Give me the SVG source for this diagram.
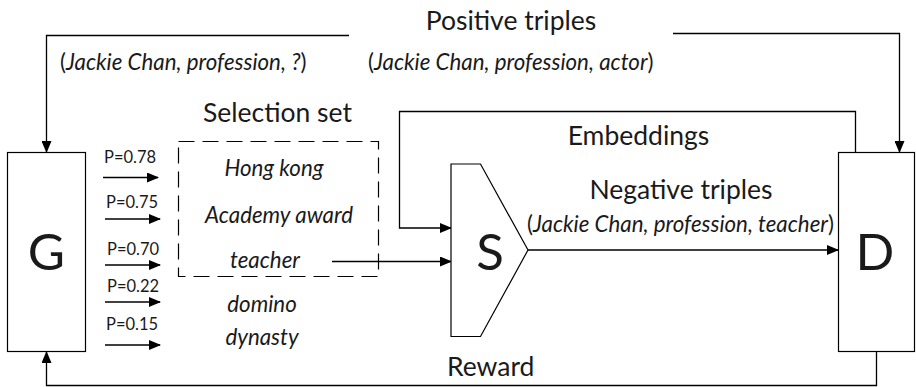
<svg xmlns="http://www.w3.org/2000/svg" width="916" height="387" viewBox="0 0 916 387">
  <style>
    .ln { fill: none; stroke: #000; stroke-width: 1.3; }
    .box { fill: #fff; stroke: #000; stroke-width: 1.2; }
    .t { font-family: Lato, "Open Sans", sans-serif; fill: #1a1a1a; }
    .lbl { font-size: 26.5px; }
    .it { font-style: italic; }
    .sm { font-size: 22.3px; }
    .p { font-size: 16.5px; }
    .big { font-size: 51px; }
  </style>
  <defs>
    <marker id="ah" markerWidth="12" markerHeight="10" refX="11" refY="5" orient="auto" markerUnits="userSpaceOnUse">
      <path d="M0,0 L12,5 L0,10 Z" fill="#000"/>
    </marker>
  </defs>
  <rect width="916" height="387" fill="#fff"/>

  <!-- connectors -->
  <g id="connectors">
    <path class="ln" d="M349,35.5 H46.5 V152" marker-end="url(#ah)"/>
    <path class="ln" d="M673,33.5 H899.5 V152" marker-end="url(#ah)"/>
    <path class="ln" d="M855.5,152.5 V111.5 H399.5 V228 H451" marker-end="url(#ah)"/>
    <path class="ln" d="M332,261.5 H451" marker-end="url(#ah)"/>
    <path class="ln" d="M528,250 H838" marker-end="url(#ah)"/>
    <path class="ln" d="M876.5,351.5 V385.5 H46.5 V352" marker-end="url(#ah)"/>
    <path class="ln" d="M103,177.5 H158" marker-end="url(#ah)"/>
    <path class="ln" d="M105,219 H160" marker-end="url(#ah)"/>
    <path class="ln" d="M105,265 H160" marker-end="url(#ah)"/>
    <path class="ln" d="M105,302 H160" marker-end="url(#ah)"/>
    <path class="ln" d="M105,345 H160" marker-end="url(#ah)"/>
  </g>

  <!-- connector labels -->
  <g id="labels">
    <text class="t lbl" x="511" y="30" text-anchor="middle">Positive triples</text>
    <text class="t sm" x="60" y="70">(<tspan class="it">Jackie Chan, profession, ?</tspan>)</text>
    <text class="t sm" x="368" y="70">(<tspan class="it">Jackie Chan, profession, actor</tspan>)</text>
    <text class="t lbl" x="638.5" y="145" text-anchor="middle">Embeddings</text>
    <text class="t lbl" x="681" y="199" text-anchor="middle">Negative triples</text>
    <text class="t sm" x="527" y="232">(<tspan class="it">Jackie Chan, profession, teacher</tspan>)</text>
    <text class="t lbl" x="447" y="376">Reward</text>
    <text class="t p" x="104" y="163">P=0.78</text>
    <text class="t p" x="106" y="208">P=0.75</text>
    <text class="t p" x="107" y="255">P=0.70</text>
    <text class="t p" x="107" y="292">P=0.22</text>
    <text class="t p" x="106" y="330">P=0.15</text>
  </g>

  <g id="G">
    <rect class="box" x="7.5" y="152.5" width="78" height="199"/>
    <text class="t big" x="46.5" y="270" text-anchor="middle">G</text>
  </g>

  <g id="selection-set">
    <rect x="178.5" y="141.5" width="200" height="135" fill="none" stroke="#000" stroke-width="1.2" stroke-dasharray="16,8"/>
    <text class="t lbl" x="277.5" y="122" text-anchor="middle">Selection set</text>
    <text class="t sm it" x="274" y="176" text-anchor="middle">Hong kong</text>
    <text class="t sm it" x="279" y="223" text-anchor="middle">Academy award</text>
    <text class="t sm it" x="265" y="268" text-anchor="middle">teacher</text>
  </g>

  <g id="candidates">
    <text class="t sm it" x="262" y="312" text-anchor="middle">domino</text>
    <text class="t sm it" x="262" y="345" text-anchor="middle">dynasty</text>
  </g>

  <g id="S">
    <path class="box" d="M451,164 H480.5 L528,250 L480.5,336.5 H451 Z"/>
    <text class="t big" x="490" y="270" text-anchor="middle">S</text>
  </g>

  <g id="D">
    <rect class="box" x="838.5" y="152.5" width="76" height="199"/>
    <text class="t big" x="875" y="270" text-anchor="middle">D</text>
  </g>
</svg>
